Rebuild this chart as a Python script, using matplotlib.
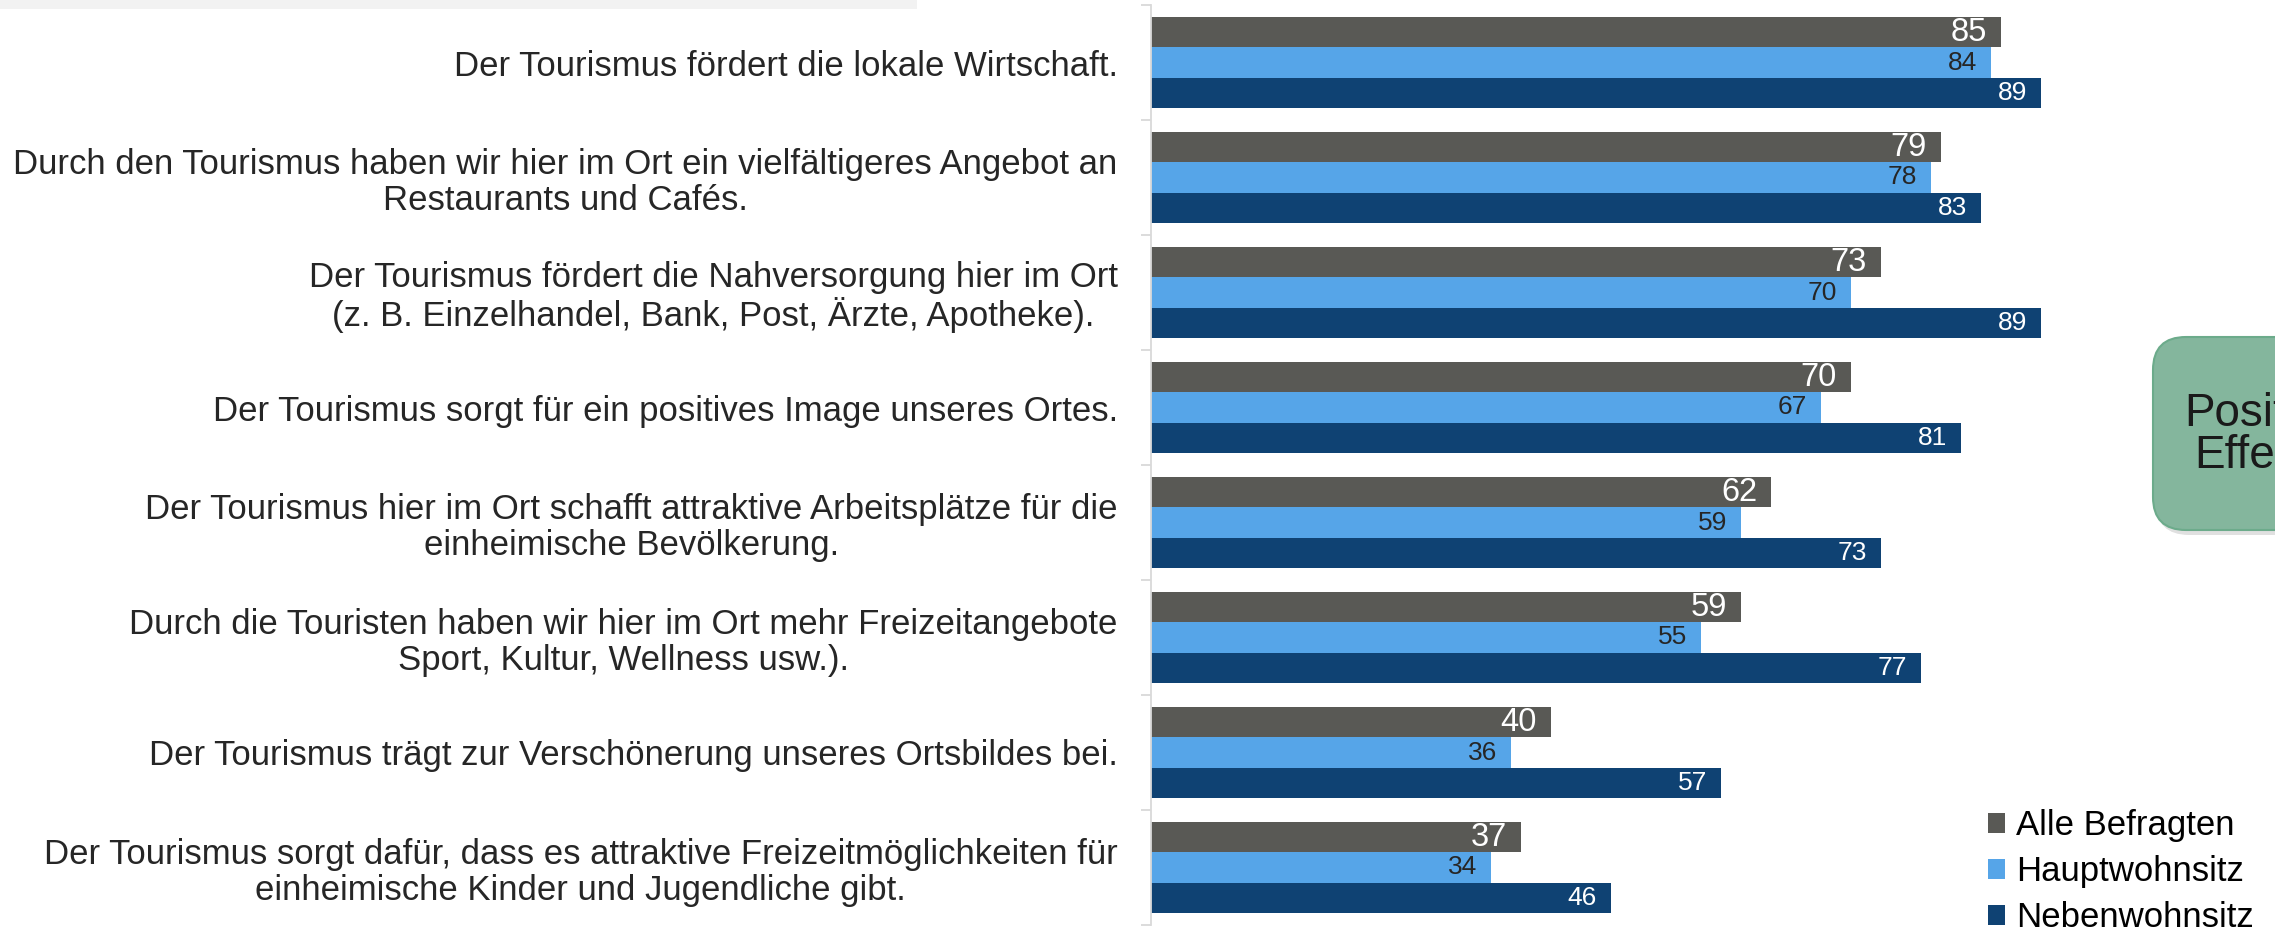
import numpy as np
import matplotlib
matplotlib.use("Agg")
import matplotlib.pyplot as plt
from matplotlib.patches import FancyBboxPatch, Rectangle

plt.rcParams['font.family'] = ['Liberation Sans', 'DejaVu Sans']

# data
categories = [
    "Der Tourismus fördert die lokale Wirtschaft.",
    "Durch den Tourismus haben wir hier im Ort ein vielfältigeres Angebot an\nRestaurants und Cafés.",
    "Der Tourismus fördert die Nahversorgung hier im Ort\n(z. B. Einzelhandel, Bank, Post, Ärzte, Apotheke).",
    "Der Tourismus sorgt für ein positives Image unseres Ortes.",
    "Der Tourismus hier im Ort schafft attraktive Arbeitsplätze für die\neinheimische Bevölkerung.",
    "Durch die Touristen haben wir hier im Ort mehr Freizeitangebote\nSport, Kultur, Wellness usw.).",
    "Der Tourismus trägt zur Verschönerung unseres Ortsbildes bei.",
    "Der Tourismus sorgt dafür, dass es attraktive Freizeitmöglichkeiten für\neinheimische Kinder und Jugendliche gibt.",
]
series_names = ["Alle Befragten", "Hauptwohnsitz", "Nebenwohnsitz"]
alle = [85, 79, 73, 70, 62, 59, 40, 37]
haupt = [84, 78, 70, 67, 59, 55, 36, 34]
neben = [89, 83, 89, 81, 73, 77, 57, 46]
box_text = "Positive\nEffekte"

colors = ['#595955', '#56a5e8', '#0f4273']
label_colors = ['white', '#262626', 'white']
label_sizes = [23.5, 19, 19]

W, H = 2275, 931
fig = plt.figure(figsize=(W / 100, H / 100), dpi=100)
ax = fig.add_axes([1151 / W, 6 / H, 1000 / W, 920 / H])

y = np.arange(len(categories))
h = 0.263
for k, (vals, col) in enumerate(zip([alle, haupt, neben], colors)):
    pos = y + (k - 1) * h
    bars = ax.barh(pos, vals, height=h, color=col, label=series_names[k])
    for b, v in zip(bars, vals):
        ax.annotate(str(v), xy=(b.get_width(), b.get_y() + b.get_height() / 2),
                    xytext=(-10, 0), textcoords='offset points',
                    ha='right', va='center', color=label_colors[k],
                    fontsize=label_sizes[k])

ax.set_xlim(0, 100)
ax.set_ylim(len(categories) - 0.5, -0.5)

for s in ['top', 'right', 'bottom']:
    ax.spines[s].set_visible(False)
ax.spines['left'].set_color('#d9d9d9')
ax.spines['left'].set_linewidth(1.3)
ax.set_xticks([])

ax.set_yticks(y)
ax.set_yticklabels(categories, fontsize=25, color='#262626', linespacing=1.1)
for t in ax.get_yticklabels():
    t.set_multialignment('center')
ax.tick_params(axis='y', which='major', length=0, pad=24)
ax.set_yticks(np.arange(len(categories) + 1) - 0.5, minor=True)
ax.tick_params(axis='y', which='minor', length=7.3, width=1.3, color='#d9d9d9')

# light band at the top left
fig.patches.append(Rectangle((0, 1 - 9 / H), 917 / W, 9 / H, transform=fig.transFigure,
                             facecolor='#f2f2f2', edgecolor='none'))

# green callout box (cut at the right edge)
x0, y0 = 2153 / 100, (H - 530) / 100
bw, bh = 2.3, 1.93
shadow = FancyBboxPatch((x0 + 0.03, y0 - 0.05), bw, bh,
                        boxstyle="round,pad=0,rounding_size=0.33",
                        transform=fig.dpi_scale_trans, facecolor='#000000',
                        alpha=0.12, edgecolor='none')
box = FancyBboxPatch((x0, y0), bw, bh, boxstyle="round,pad=0,rounding_size=0.33",
                     transform=fig.dpi_scale_trans, facecolor='#84b69d',
                     edgecolor='#6cab8b', linewidth=1.5)
fig.patches.extend([shadow, box])
fig.text(22.65, (H - 435) / 100, box_text, transform=fig.dpi_scale_trans,
         ha='center', va='center', fontsize=33, color='#1a1a1a', linespacing=0.95)

ax.legend(loc='lower left', bbox_to_anchor=(1988 / W, -3 / H),
          bbox_transform=fig.transFigure, frameon=False, fontsize=25,
          handlelength=0.5, handleheight=0.5, handletextpad=0.3,
          labelspacing=0.37, borderpad=0, borderaxespad=0)

fig.savefig('out.png', dpi=100)
